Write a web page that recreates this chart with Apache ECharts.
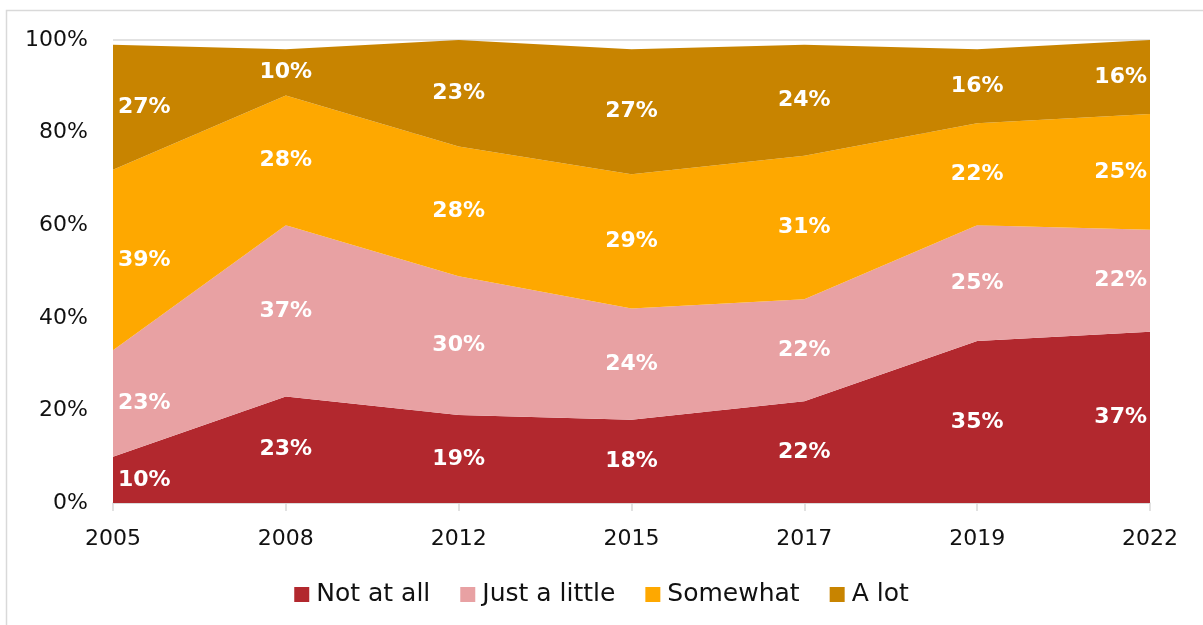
<!DOCTYPE html>
<html>
<head>
<meta charset="utf-8">
<script src="https://cdn.jsdelivr.net/npm/echarts@6/dist/echarts.min.js"></script>
<style>
  html, body { margin: 0; padding: 0; background: #fff; }
  #chart { width: 1203px; height: 625px; }
</style>
</head>
<body>
<div id="chart"></div>
<script>
// Survey years and share of responses per answer (percent)
const years = ['2005', '2008', '2012', '2015', '2017', '2019', '2022'];
const notAtAll    = [10, 23, 19, 18, 22, 35, 37];
const justALittle = [23, 37, 30, 24, 22, 25, 22];
const somewhat    = [39, 28, 28, 29, 31, 22, 25];
const aLot        = [27, 10, 23, 27, 24, 16, 16];
const yTicks = ['0%', '20%', '40%', '60%', '80%', '100%'];

const seriesNames = ['Not at all', 'Just a little', 'Somewhat', 'A lot'];
const seriesData = [notAtAll, justALittle, somewhat, aLot];
const colors = ['#B2282E', '#E8A1A3', '#FEA800', '#C88400'];
const FONT = '"DejaVu Sans", sans-serif';

// Stacked areas
const areaSeries = seriesData.map((d, i) => ({
  name: seriesNames[i],
  type: 'line',
  stack: 'total',
  data: d,
  symbol: 'none',
  lineStyle: { width: 0 },
  areaStyle: { color: colors[i], opacity: 1 },
  itemStyle: { color: colors[i] },
  z: 2
}));

// Value labels placed at the middle of each band
const labelSeries = seriesData.map((d, i) => {
  const pts = d.map((v, j) => {
    let below = 0;
    for (let k = 0; k < i; k++) below += seriesData[k][j];
    const item = { value: [j, below + v / 2], raw: v };
    if (j === 0) item.label = { align: 'left', offset: [5, 0] };
    if (j === d.length - 1) item.label = { align: 'right', offset: [-3, 0] };
    return item;
  });
  return {
    type: 'scatter',
    data: pts,
    symbolSize: 0,
    silent: true,
    z: 5,
    itemStyle: { opacity: 1 },
    label: {
      show: true,
      position: 'inside',
      color: '#ffffff',
      opacity: 1,
      textBorderWidth: 0,
      textBorderColor: 'transparent',
      fontFamily: FONT,
      fontWeight: 'bold',
      fontSize: 22,
      formatter: p => p.data.raw + '%'
    }
  };
});

const chart = echarts.init(document.getElementById('chart'), null, { renderer: 'canvas' });
chart.setOption({
  animation: false,
  backgroundColor: '#fff',
  graphic: [{
    type: 'rect',
    shape: { x: 6.5, y: 10.5, width: 1250, height: 700 },
    style: { fill: 'none', stroke: '#d9d9d9', lineWidth: 1.5 },
    z: -1
  }],
  grid: { left: 113, right: 53, top: 40, bottom: 122 },
  xAxis: {
    type: 'category',
    data: years,
    boundaryGap: false,
    axisLine: { lineStyle: { color: '#d9d9d9', width: 1.5 } },
    axisTick: { show: true, length: 8, lineStyle: { color: '#d9d9d9', width: 1.5 } },
    axisLabel: { color: '#111', fontFamily: FONT, fontSize: 22, margin: 25 }
  },
  yAxis: {
    type: 'value',
    min: 0,
    max: 100,
    interval: 20,
    axisLine: { show: false },
    axisTick: { show: false },
    splitLine: { lineStyle: { color: '#d9d9d9', width: 1.5 } },
    axisLabel: {
      color: '#111', fontFamily: FONT, fontSize: 22, margin: 25,
      formatter: v => yTicks[v / 20]
    }
  },
  legend: {
    data: seriesNames,
    bottom: 13,
    left: 'center',
    itemWidth: 15,
    itemHeight: 15,
    itemGap: 30,
    icon: 'rect',
    textStyle: { color: '#111', fontFamily: FONT, fontSize: 25, padding: [0, 0, 0, 2] }
  },
  series: areaSeries.concat(labelSeries)
});
</script>
</body>
</html>
